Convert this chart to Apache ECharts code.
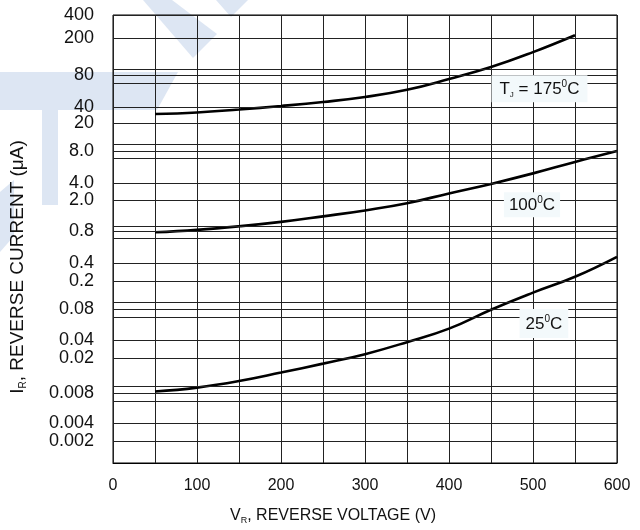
<!DOCTYPE html>
<html><head><meta charset="utf-8">
<script src="https://cdn.jsdelivr.net/npm/echarts@6/dist/echarts.min.js"></script>
<style>html,body{margin:0;padding:0;background:#fff}#c{width:640px;height:530px}</style>
</head><body><div id="c"></div>
<script>
// Reverse voltage (V)
const voltage = [50, 100, 150, 200, 250, 300, 350, 400, 450, 500, 550, 600];
// Reverse current (uA) per junction temperature
const i175 = [24.9, 26.0, 28.4, 31.4, 35.3, 40.8, 50.3, 68.7, 97.2, 150, 245];
const i100 = [0.805, 0.865, 0.959, 1.09, 1.28, 1.52, 1.87, 2.49, 3.28, 4.45, 6.21, 8.53];
const i25 = [0.00794, 0.00891, 0.01076, 0.01377, 0.01786, 0.0235, 0.0333, 0.0493, 0.0853, 0.140, 0.222, 0.396];
// Y tick labels, and the current level each label's grid line sits at
const yTickLabels = ['400','200','80','40','20','8.0','4.0','2.0','0.8','0.4','0.2','0.08','0.04','0.02','0.008','0.004','0.002'];
const yTickLevels = [440, 226, 76.6, 30.3, 19.1, 8.46, 3.35, 2.05, 0.832, 0.330, 0.195, 0.0869, 0.0353, 0.0210, 0.00760, 0.00319, 0.00189];
// unlabeled extra grid lines
const yExtraLevels = [91.2, 60.8, 10.4, 6.91, 0.962, 0.679, 0.106, 0.0689, 0.00931, 0.00602];
const xLabelStep = 100;

const FONT = 'Liberation Sans, Arial, Helvetica, sans-serif';
const toPairs = (arr) => arr.map((v, i) => [voltage[i], v]);

const tempRich = {
  m: { fontSize: 17, lineHeight: 20, color: '#111', fontFamily: FONT },
  sub: { fontSize: 8, lineHeight: 8, verticalAlign: 'bottom', color: '#111', fontFamily: FONT },
  sup: { fontSize: 10, lineHeight: 10, verticalAlign: 'top', color: '#111', fontFamily: FONT }
};
function tempPoint(coord, text, pad) {
  return {
    coord: coord,
    symbol: 'rect', symbolSize: 1, itemStyle: { color: 'rgba(0,0,0,0)' },
    label: {
      show: true, position: 'inside', formatter: text, rich: tempRich,
      backgroundColor: '#f3f9fb', padding: pad
    }
  };
}

const curveBase = {
  type: 'line', smooth: 0.45, symbol: 'none', z: 3, silent: true,
  lineStyle: { color: '#000', width: 2.6 }
};

const gridLineData = yTickLevels.map((v, i) => ({
  yAxis: v, label: { show: true, formatter: yTickLabels[i] }
})).concat(yExtraLevels.map(v => ({ yAxis: v, label: { show: false } })));

const chart = echarts.init(document.getElementById('c'), null, { renderer: 'canvas' });
chart.setOption({
  animation: false,
  backgroundColor: '#fff',
  textStyle: { fontFamily: FONT },
  graphic: [
    { type: 'polygon', z: -10, shape: { points: [[143,0],[172,0],[217,34],[193,58]] }, style: { fill: '#dde6f3' } },
    { type: 'polygon', z: -10, shape: { points: [[216,0],[248,0],[231,17]] }, style: { fill: '#dde6f3' } },
    { type: 'polygon', z: -10, shape: { points: [[0,72],[178,72],[157,110],[0,110]] }, style: { fill: '#dde6f3' } },
    { type: 'polygon', z: -10, shape: { points: [[42,110],[58,110],[58,205],[42,205]] }, style: { fill: '#dde6f3' } },
    { type: 'polygon', z: -10, shape: { points: [[0,192],[14,180],[14,236],[0,252]] }, style: { fill: '#dde6f3' } }
  ],
  grid: { left: 110, right: 23, top: 15, height: 448, show: true, borderColor: '#000', borderWidth: 1, backgroundColor: 'transparent' },
  xAxis: {
    type: 'value', min: 0, max: 600, interval: 50,
    axisLine: { show: true, lineStyle: { color: '#000' } },
    axisTick: { show: false },
    splitLine: { show: true, lineStyle: { color: '#222', width: 1 } },
    axisLabel: {
      margin: 15, fontSize: 16, color: '#111', fontFamily: FONT,
      formatter: v => (v % xLabelStep === 0 ? String(v) : '')
    },
    name: '{a|V}{s|R}{a|, REVERSE VOLTAGE (V)}',
    nameLocation: 'middle', nameGap: 44,
    nameTextStyle: {
      padding: [0, 64, 0, 0],
      rich: {
        a: { fontSize: 16, lineHeight: 18, color: '#111', fontFamily: FONT },
        s: { fontSize: 9, lineHeight: 9, verticalAlign: 'bottom', color: '#111', fontFamily: FONT }
      }
    }
  },
  yAxis: {
    type: 'log', logBase: 10, min: 0.001, max: 440,
    axisLine: { show: false }, axisTick: { show: false },
    splitLine: { show: false }, minorSplitLine: { show: false },
    axisLabel: { show: false },
    name: '{a|I}{s|R}{a|, REVERSE CURRENT (μA)}',
    nameLocation: 'middle', nameGap: 85,
    nameTextStyle: {
      padding: [0, 56, 0, 0],
      rich: {
        a: { fontSize: 19, lineHeight: 21, color: '#111', fontFamily: FONT },
        s: { fontSize: 10, lineHeight: 10, verticalAlign: 'bottom', color: '#111', fontFamily: FONT }
      }
    }
  },
  series: [
    {
      type: 'line', name: 'grid', data: [[0, 1]], symbol: 'none', silent: true, z: 1,
      lineStyle: { opacity: 0 },
      markLine: {
        silent: true, animation: false, symbol: ['none', 'none'], precision: 10,
        lineStyle: { color: '#222', width: 1, type: 'solid' },
        label: { position: 'start', distance: 19, fontSize: 18, color: '#111', fontFamily: FONT },
        emphasis: { disabled: true },
        data: gridLineData
      }
    },
    Object.assign({}, curveBase, {
      name: '175', data: toPairs(i175),
      markPoint: { z: 5, silent: true, data: [tempPoint([507.7, 51.8], '{m|T}{sub|J}{m| = 175}{sup|0}{m|C}', [4, 8, 3, 8])] }
    }),
    Object.assign({}, curveBase, {
      name: '100', data: toPairs(i100),
      markPoint: { z: 5, silent: true, data: [tempPoint([498.8, 1.79], '{m|100}{sup|0}{m|C}', [3, 5, 2, 5])] }
    }),
    Object.assign({}, curveBase, {
      name: '25', data: toPairs(i25),
      markPoint: { z: 5, silent: true, data: [tempPoint([513, 0.057], '{m|25}{sup|0}{m|C}', [5, 6, 4, 6])] }
    })
  ]
});
</script>
</body></html>
